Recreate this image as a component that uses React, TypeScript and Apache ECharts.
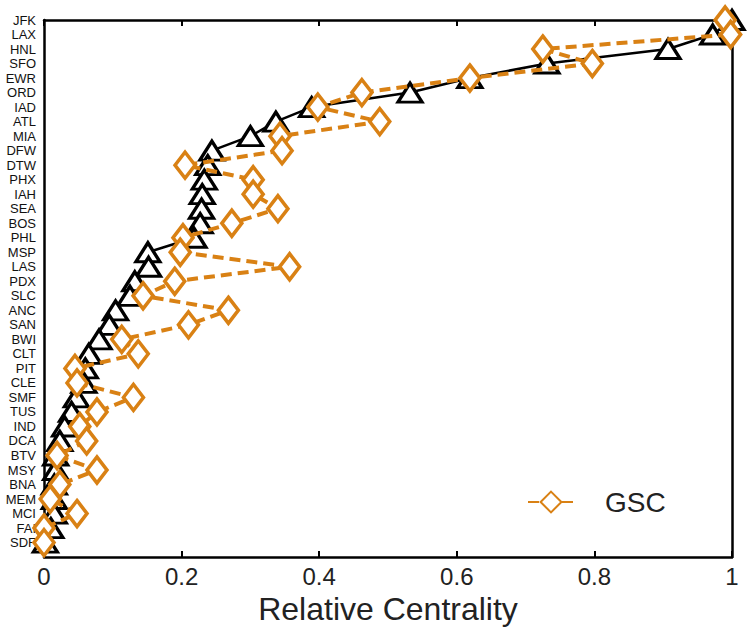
import React, { useEffect, useRef } from "react";
import * as echarts from "echarts";

const airports = [
  "JFK", "LAX", "HNL", "SFO", "EWR", "ORD", "IAD", "ATL", "MIA", "DFW",
  "DTW", "PHX", "IAH", "SEA", "BOS", "PHL", "MSP", "LAS", "PDX", "SLC",
  "ANC", "SAN", "BWI", "CLT", "PIT", "CLE", "SMF", "TUS", "IND", "DCA",
  "BTV", "MSY", "BNA", "MEM", "MCI", "FAI", "SDF",
];

const baseCentrality = [
  1.0, 0.972, 0.907, 0.731, 0.619, 0.532, 0.389, 0.337, 0.3, 0.244,
  0.238, 0.233, 0.23, 0.229, 0.227, 0.218, 0.151, 0.152, 0.132, 0.125,
  0.104, 0.095, 0.08, 0.065, 0.06, 0.058, 0.047, 0.04, 0.03, 0.023,
  0.017, 0.017, 0.015, 0.015, 0.015, 0.01, 0.002,
];

const gscCentrality = [
  0.99, 0.998, 0.725, 0.797, 0.619, 0.462, 0.398, 0.488, 0.343, 0.346,
  0.205, 0.304, 0.304, 0.34, 0.273, 0.202, 0.198, 0.357, 0.19, 0.144,
  0.268, 0.21, 0.113, 0.137, 0.045, 0.048, 0.13, 0.077, 0.052, 0.062,
  0.019, 0.077, 0.023, 0.009, 0.048, 0.0, 0.0,
];

const xTicks = [0, 0.2, 0.4, 0.6, 0.8, 1];

const ORANGE = "#D98114";

export default function App() {
  const ref = useRef<HTMLDivElement>(null);
  useEffect(() => {
    if (!ref.current) return;
    const chart = echarts.init(ref.current, null, { renderer: "svg" });
    const n = airports.length;
    const pos = (i: number) => n - i;
    const baseData = baseCentrality.map((v, i) => [v, pos(i)]);
    const gscData = gscCentrality.map((v, i) => [v, pos(i)]);
    const tickFont = "'Liberation Sans', Arial, Helvetica, sans-serif";
    chart.setOption({
      animation: false,
      backgroundColor: "#ffffff",
      grid: { left: 44, right: 19, top: 20, bottom: 67, containLabel: false },
      legend: {
        data: ["GSC"],
        left: 522,
        top: 483,
        itemWidth: 46,
        itemHeight: 26,
        textStyle: {
          fontSize: 28,
          fontFamily: tickFont,
          color: "#222",
          padding: [0, 0, 0, 26],
        },
      },
      xAxis: [
        {
          type: "value",
          min: 0,
          max: 1,
          interval: 0.2,
          position: "bottom",
          axisLine: { show: true, onZero: false, lineStyle: { color: "#000", width: 2.5 } },
          axisTick: { show: true, inside: true, length: 6, lineStyle: { color: "#000", width: 2 } },
          axisLabel: {
            show: true,
            fontSize: 24,
            fontFamily: tickFont,
            color: "#222",
            margin: 7,
            formatter: (v: number) => {
              const t = xTicks.find((x) => Math.abs(x - v) < 1e-9);
              return t === undefined ? "" : String(t);
            },
          },
          splitLine: { show: false },
          name: "Relative Centrality",
          nameLocation: "middle",
          nameGap: 27,
          nameTextStyle: { fontSize: 32, fontFamily: tickFont, color: "#222" },
        },
        {
          type: "value",
          min: 0,
          max: 1,
          interval: 0.2,
          position: "top",
          axisLine: { show: true, onZero: false, lineStyle: { color: "#000", width: 2.5 } },
          axisTick: { show: true, inside: true, length: 6, lineStyle: { color: "#000", width: 2 } },
          axisLabel: { show: false },
          splitLine: { show: false },
        },
      ],
      yAxis: [
        {
          type: "value",
          min: 0,
          max: n,
          interval: 1,
          position: "left",
          axisLine: { show: true, onZero: false, lineStyle: { color: "#000", width: 2.5 } },
          axisTick: { show: false },
          splitLine: { show: false },
          axisLabel: {
            show: true,
            showMaxLabel: true,
            showMinLabel: false,
            hideOverlap: false,
            margin: 8,
            fontSize: 13,
            lineHeight: 13,
            fontFamily: "'Liberation Sans', Arial, sans-serif",
            color: "#111",
            formatter: (v: number) => {
              const i = n - Math.round(v);
              return i >= 0 && i < n ? airports[i] : "";
            },
          },
        },
        {
          type: "value",
          min: 0,
          max: n,
          interval: 1,
          position: "right",
          axisLine: { show: true, onZero: false, lineStyle: { color: "#000", width: 2.5 } },
          axisTick: { show: false },
          axisLabel: { show: false },
          splitLine: { show: false },
        },
      ],
      series: [
        {
          name: "Base",
          type: "line",
          data: baseData,
          symbol: "triangle",
          symbolSize: [24, 19],
          showAllSymbol: true,
          lineStyle: { color: "#000", width: 2.5 },
          itemStyle: { color: "#fff", borderColor: "#000", borderWidth: 3.2 },
          z: 2,
        },
        {
          name: "GSC",
          type: "line",
          data: gscData,
          symbol: "diamond",
          symbolSize: [20, 26],
          showAllSymbol: true,
          lineStyle: { color: ORANGE, width: 4, type: [11, 6] },
          itemStyle: { color: "#fff", borderColor: ORANGE, borderWidth: 3.6 },
          z: 3,
        },
      ],
    });
    return () => chart.dispose();
  }, []);
  return (
    <div
      ref={ref}
      style={{ position: "fixed", left: 0, top: 0, width: 751, height: 630, background: "#fff" }}
    />
  );
}
